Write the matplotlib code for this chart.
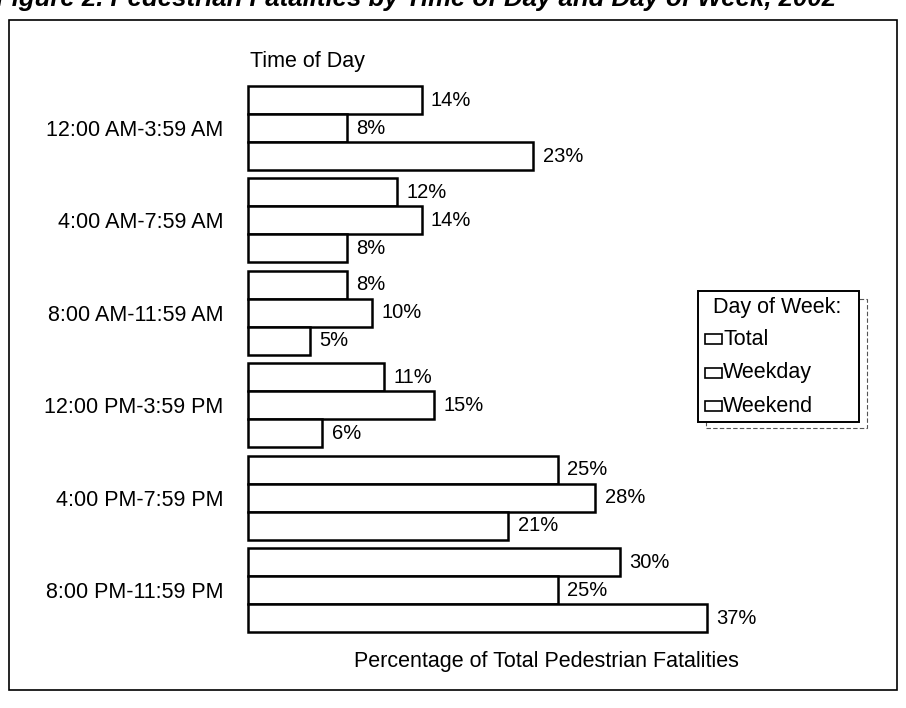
import matplotlib.pyplot as plt
import matplotlib.patches as mpatches
import numpy as np

plt.rcParams['font.family'] = ['Liberation Sans', 'DejaVu Sans']

# time-of-day bins, top to bottom
periods = ['12:00 AM-3:59 AM', '4:00 AM-7:59 AM', '8:00 AM-11:59 AM',
           '12:00 PM-3:59 PM', '4:00 PM-7:59 PM', '8:00 PM-11:59 PM']
total = [14, 12, 8, 11, 25, 30]
weekday = [8, 14, 10, 15, 28, 25]
weekend = [23, 8, 5, 6, 21, 37]
series_names = ['Total', 'Weekday', 'Weekend']

W, H = 906, 708
fig = plt.figure(figsize=(W / 100, H / 100), dpi=100)

def px(x0, y0, x1, y1):
    # pixel box (top-left origin) -> figure fraction rect
    return [x0 / W, 1 - y1 / H, (x1 - x0) / W, (y1 - y0) / H]

ax = fig.add_axes(px(248, 86, 744, 632))

bh = 28 / 92.4
y = np.arange(len(periods))
fs = 15.5
vfs = 14.5
for k, vals in enumerate([total, weekday, weekend]):
    pos = y + (k - 1) * bh
    bars = ax.barh(pos, vals, height=bh, color='white', edgecolor='black',
                   linewidth=1.8, label=series_names[k], clip_on=False)
    for b, v in zip(bars, vals):
        ax.text(v + 0.75, b.get_y() + bh / 2, f'{v}%', va='center', ha='left',
                fontsize=vfs)

ax.set_xlim(0, 40)
ax.set_ylim(len(periods) - 1 + 1.5 * bh, -1.5 * bh)
ax.set_yticks(y)
ax.set_yticklabels(periods, fontsize=fs)
ax.tick_params(axis='y', length=0, pad=18)
ax.set_xticks([])
for s in ax.spines.values():
    s.set_visible(False)

fig.text(250 / W, 1 - 62 / H, 'Time of Day', fontsize=fs, ha='left', va='center')
fig.text(546 / W, 1 - 661 / H, 'Percentage of Total Pedestrian Fatalities',
         fontsize=fs, ha='center', va='center')

# title cut off by the scan at the top edge
fig.text(-0.004, 1 - 6 / H, 'Figure 2. Pedestrian Fatalities by Time of Day and Day of Week, 2002',
         fontsize=18.5, fontweight='bold', fontstyle='italic', ha='left', va='baseline')

# outer frame
fig.add_artist(mpatches.Rectangle((9 / W, 1 - 690 / H), (897 - 9) / W, (690 - 20) / H,
                                  transform=fig.transFigure, fill=False,
                                  edgecolor='black', linewidth=1.2))

# legend box with a dashed drop shadow
fig.add_artist(mpatches.Rectangle((706 / W, 1 - 428 / H), (867 - 706) / W, (428 - 299) / H,
                                  transform=fig.transFigure, fill=False, zorder=2,
                                  edgecolor='#555555', linewidth=0.8, linestyle=(0, (4, 2))))
fig.add_artist(mpatches.Rectangle((698 / W, 1 - 422 / H), (859 - 698) / W, (422 - 291) / H,
                                  transform=fig.transFigure, facecolor='white', zorder=3,
                                  edgecolor='black', linewidth=1.4))
fig.text(777 / W, 1 - 308 / H, 'Day of Week:', fontsize=fs, ha='center', va='center',
         zorder=4)
for i, name in enumerate(series_names):
    yc = 339 + i * 33.5
    fig.add_artist(mpatches.Rectangle((705 / W, 1 - (yc + 5) / H), 17 / W, 10 / H,
                                      transform=fig.transFigure, facecolor='white',
                                      edgecolor='black', linewidth=1.2, zorder=4))
    fig.text(723 / W, 1 - yc / H, name, fontsize=fs, ha='left', va='center', zorder=4)

fig.savefig('out.png', dpi=100)
